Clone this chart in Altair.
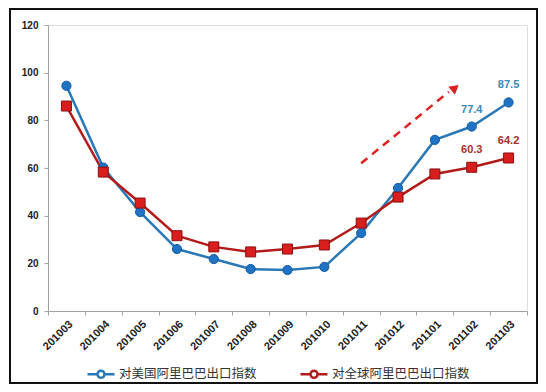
import math
import altair as alt
import pandas as pd

months = ["201003", "201004", "201005", "201006", "201007", "201008", "201009",
          "201010", "201011", "201012", "201101", "201102", "201103"]
us_index = [94.5, 60.2, 41.5, 26.0, 21.8, 17.6, 17.2, 18.5, 32.7, 51.6, 71.8, 77.4, 87.5]
world_index = [86.0, 58.3, 45.3, 31.6, 26.9, 24.8, 26.0, 27.7, 36.9, 47.8, 57.5, 60.3, 64.2]
series_names = ["对美国阿里巴巴出口指数", "对全球阿里巴巴出口指数"]
labelled_months = ["201102", "201103"]
y_ticks = [0, 20, 40, 60, 80, 100, 120]

# trend-arrow annotation (category index units, index units)
arrow_x = [8.5, 10.88]
arrow_y = [62.0, 92.0]
arrow_head_x = [11.05]
arrow_head_y = [93.6]

line_colors = ["#2a78b6", "#b31b1b"]
marker_fill = ["#1f72c4", "#d91e1e"]
marker_stroke = ["#155c9e", "#8c1010"]
label_colors = ["#3a88b5", "#a83030"]

rows = []
for s, vals in zip(series_names, [us_index, world_index]):
    for m, v in zip(months, vals):
        rows.append({"month": m, "series": s, "value": v,
                     "label": f"{v:.1f}" if m in labelled_months else ""})
df = pd.DataFrame(rows)

x_enc = alt.X("month:O", sort=months,
              scale=alt.Scale(type="band", paddingInner=0, paddingOuter=0),
              axis=alt.Axis(title=None, labelAngle=-45, labelFont="Liberation Sans",
                            labelFontWeight="bold", labelFontSize=11, labelColor="#222",
                            tickBand="extent", tickSize=4, tickColor="#a0a0a0",
                            domainColor="#a0a0a0", labelPadding=3))
y_axis = alt.Axis(title=None, values=y_ticks, grid=False, labelFont="Liberation Sans",
                  labelFontWeight="bold", labelFontSize=10, labelColor="#222",
                  tickSize=4, tickColor="#a0a0a0", domainColor="#a0a0a0",
                  labelPadding=6)
y_enc = alt.Y("value:Q", scale=alt.Scale(domain=[0, 120]), axis=y_axis)

base = alt.Chart(df)

# legend symbol: a short line with a round marker on it
r = 0.26
circ = "M" + "L".join(f"{r*math.cos(2*math.pi*k/16):.3f},{r*math.sin(2*math.pi*k/16):.3f}"
                      for k in range(16)) + "Z"
legend_symbol = "M-1,0L-0.26,0M0.26,0L1,0" + circ

lines = base.mark_line(strokeWidth=2.5).encode(
    x=x_enc, y=y_enc,
    color=alt.Color("series:N", scale=alt.Scale(domain=series_names, range=line_colors),
                    legend=alt.Legend(title=None, orient="none", legendX=38, legendY=334,
                                      direction="horizontal", labelFont="Noto Sans CJK SC",
                                      labelFontSize=12.5, labelColor="#333",
                                      symbolType=legend_symbol, symbolSize=729,
                                      symbolStrokeWidth=2.5, columnPadding=38,
                                      labelOffset=3)),
)

circles = base.transform_filter(alt.datum.series == series_names[0]).mark_point(
    shape="circle", filled=True, size=85, fill=marker_fill[0], stroke=marker_stroke[0],
    strokeWidth=1, opacity=1).encode(x=x_enc, y=y_enc)

squares = base.transform_filter(alt.datum.series == series_names[1]).mark_point(
    shape="square", filled=True, size=100, fill=marker_fill[1], stroke=marker_stroke[1],
    strokeWidth=1, opacity=1).encode(x=x_enc, y=y_enc)

labels_us = base.transform_filter(
    (alt.datum.label != "") & (alt.datum.series == series_names[0])).mark_text(
    font="Liberation Sans", fontWeight="bold", fontSize=11, dy=-17,
    color=label_colors[0]).encode(x=x_enc, y=y_enc, text="label:N")
labels_world = base.transform_filter(
    (alt.datum.label != "") & (alt.datum.series == series_names[1])).mark_text(
    font="Liberation Sans", fontWeight="bold", fontSize=11, dy=-17,
    color=label_colors[1]).encode(x=x_enc, y=y_enc, text="label:N")

border = alt.Chart(pd.DataFrame({"a": [0]})).mark_rect(
    fill=None, stroke="#111", strokeWidth=2).encode(
    x=alt.value(-38), x2=alt.value(489), y=alt.value(-16), y2=alt.value(358))

inner = alt.layer(lines, circles, squares, labels_us, labels_world, border)

arrow_df = pd.DataFrame({"ax": arrow_x, "value": arrow_y})
head_df = pd.DataFrame({"ax": arrow_head_x, "value": arrow_head_y})
ax_enc = alt.X("ax:Q", scale=alt.Scale(domain=[0, 13]), axis=None)
arrow_line = alt.Chart(arrow_df).mark_line(
    color="#e02020", strokeWidth=2.5, strokeDash=[8, 6]).encode(x=ax_enc, y=y_enc)
arrow_head = alt.Chart(head_df).mark_point(
    shape="triangle-up", filled=True, color="#e02020", size=110, angle=51,
    opacity=1).encode(x=ax_enc, y=y_enc)

chart = alt.layer(inner, arrow_line, arrow_head).resolve_scale(
    x="independent", y="shared").properties(
    width=479, height=286,
    autosize=alt.AutoSizeParams(type="none"),
    padding={"left": 40, "top": 17, "right": 11, "bottom": 73},
).configure_view(strokeOpacity=0).configure(background="white")

chart.save("out.html", embed_options={"renderer": "svg", "actions": False})
